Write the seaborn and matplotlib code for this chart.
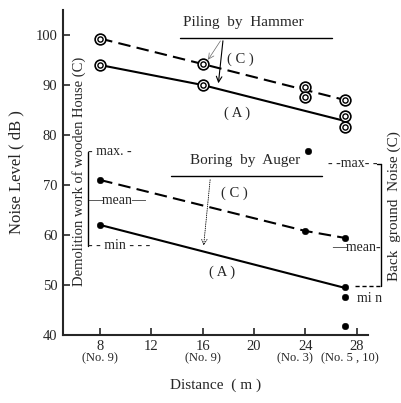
import matplotlib
matplotlib.use("Agg")
import matplotlib.pyplot as plt
import seaborn as sns

sns.set_style("ticks")
plt.rcParams["font.family"] = ["Liberation Serif", "DejaVu Serif"]

# Piling by Hammer (double circles)
hammer_c_x = [8, 16, 27.1]
hammer_c_y = [99.3, 94.2, 87.0]
hammer_a_x = [8, 16, 27.1]
hammer_a_y = [94.0, 90.0, 82.8]
hammer_pts_x = [8, 8, 16, 16, 24, 24, 27.1, 27.1, 27.1]
hammer_pts_y = [99.3, 94.0, 94.2, 90.0, 89.6, 87.6, 87.0, 83.8, 81.6]

# Boring by Auger (dots)
auger_c_x = [8, 24, 27.1]
auger_c_y = [71.0, 60.8, 59.4]
auger_a_x = [8, 27.1]
auger_a_y = [62.0, 49.4]
auger_pts_x = [8, 8, 24, 24.2, 27.1, 27.1, 27.1, 27.1]
auger_pts_y = [71.0, 62.0, 60.8, 76.8, 59.4, 49.6, 47.6, 41.8]

xticks = [8, 12, 16, 20, 24, 28]
yticks = [40, 50, 60, 70, 80, 90, 100]
site_labels = [(8, "(No. 9)"), (16, "(No. 9)"), (23.2, "(No. 3)"), (27.5, "(No. 5 , 10)")]

fig = plt.figure(figsize=(4.01, 4.03), dpi=100)
ax = fig.add_axes([0.157, 0.169, 0.761, 0.806])

dash = (0, (6, 3))
sns.lineplot(x=hammer_c_x, y=hammer_c_y, color="k", lw=1.5, linestyle=dash, ax=ax, sort=False)
sns.lineplot(x=hammer_a_x, y=hammer_a_y, color="k", lw=1.5, ax=ax, sort=False)
sns.lineplot(x=auger_c_x, y=auger_c_y, color="k", lw=1.5, linestyle=dash, ax=ax, sort=False)
sns.lineplot(x=auger_a_x, y=auger_a_y, color="k", lw=1.5, ax=ax, sort=False)

sns.scatterplot(x=hammer_pts_x, y=hammer_pts_y, marker="o", s=60, facecolor="white",
                edgecolor="k", linewidth=1.2, ax=ax, zorder=3)
sns.scatterplot(x=hammer_pts_x, y=hammer_pts_y, marker="o", s=14, facecolor="white",
                edgecolor="k", linewidth=1.0, ax=ax, zorder=4)
sns.scatterplot(x=auger_pts_x, y=auger_pts_y, marker="o", s=22, color="k",
                edgecolor="k", ax=ax, zorder=3)

ax.set_xlim(5.1, 28.9)
ax.set_ylim(40, 105)
ax.set_xticks(xticks)
ax.set_yticks(yticks)
ax.tick_params(direction="in", length=5, width=1.2, labelsize=10.5, pad=4)
for s in ["top", "right"]:
    ax.spines[s].set_visible(False)
for s in ["left", "bottom"]:
    ax.spines[s].set_linewidth(1.5)

ax.set_xlabel("Distance  ( m )", fontsize=11, labelpad=18)
ax.set_ylabel("Noise Level ( dB )", fontsize=12, labelpad=8)

for x, lab in site_labels:
    ax.text(x, 35.4, lab, ha="center", va="center", fontsize=9, clip_on=False)

# Piling by Hammer annotation
ax.text(19.2, 102.6, "Piling  by  Hammer", ha="center", va="center", fontsize=11)
ax.plot([14.2, 26.1], [99.4, 99.4], color="k", lw=1)
ax.annotate("", xy=(17.2, 89.8), xytext=(17.6, 99.4),
            arrowprops=dict(arrowstyle="->", lw=0.8, color="k"))
ax.annotate("", xy=(16.3, 94.6), xytext=(17.5, 99.3),
            arrowprops=dict(arrowstyle="->", lw=0.5, color="0.4"))
ax.text(18.9, 95.2, "( C )", ha="center", va="center", fontsize=10.5)
ax.text(18.7, 84.4, "( A )", ha="center", va="center", fontsize=10.5)

# Boring by Auger annotation
ax.text(19.3, 74.8, "Boring  by  Auger", ha="center", va="center", fontsize=11)
ax.plot([13.5, 25.3], [71.8, 71.8], color="k", lw=1)
ax.annotate("", xy=(16.05, 57.3), xytext=(16.6, 71.6),
            arrowprops=dict(arrowstyle="->", lw=0.6, color="k", linestyle=":"))
ax.text(18.5, 68.4, "( C )", ha="center", va="center", fontsize=10.5)
ax.text(17.5, 52.6, "( A )", ha="center", va="center", fontsize=10.5)

# left bracket: demolition work
ax.text(6.36, 72.8, "Demolition work of wooden House (C)", rotation=90,
        ha="center", va="center", fontsize=10.5)
ax.plot([7.06, 7.06], [57.8, 76.6], color="k", lw=1)
ax.text(7.06, 76.6, "- max. -", ha="left", va="center", fontsize=10)
ax.text(7.06, 66.8, "\u2014mean\u2014", ha="left", va="center", fontsize=10)
ax.text(7.06, 57.8, "- - min - - -", ha="left", va="center", fontsize=10)

# right bracket: background noise
ax.text(30.9, 65.8, "Back  ground  Noise (C)", rotation=90, ha="center",
        va="center", fontsize=11, clip_on=False)
ax.plot([29.9, 29.9], [49.8, 74.2], color="k", lw=1, clip_on=False)
ax.plot([29.6, 29.9], [74.2, 74.2], color="k", lw=1, clip_on=False)
ax.text(29.6, 74.2, "- -max- -", ha="right", va="center", fontsize=10, clip_on=False)
ax.text(29.9, 57.4, "\u2014mean-", ha="right", va="center", fontsize=10, clip_on=False)
ax.plot([27.9, 29.9], [49.8, 49.8], color="k", lw=1, linestyle=(0, (3, 2)), clip_on=False)
ax.text(28.0, 47.2, "mi n", ha="left", va="center", fontsize=10, clip_on=False)

fig.savefig("out.png", dpi=100)
